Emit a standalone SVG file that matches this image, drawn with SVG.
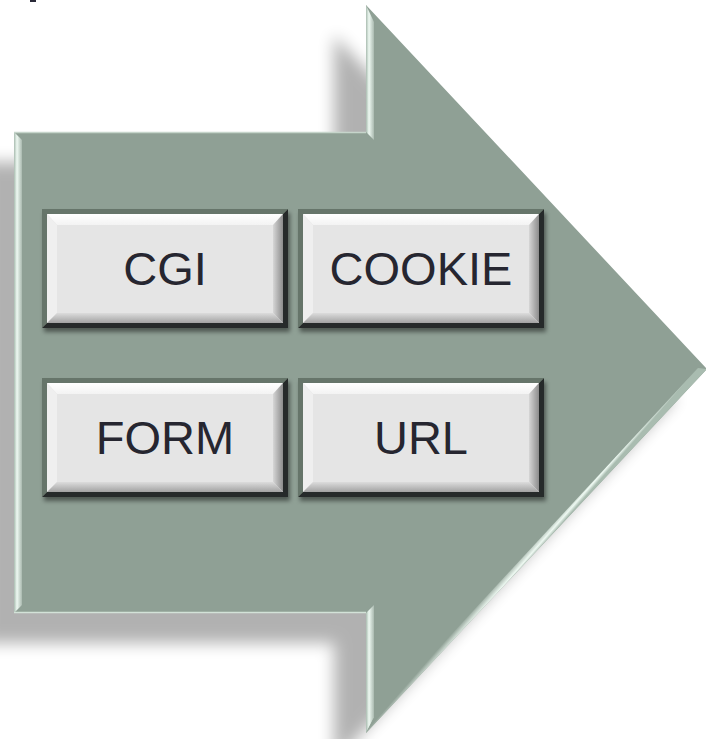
<svg xmlns="http://www.w3.org/2000/svg" xmlns:xlink="http://www.w3.org/1999/xlink" width="706" height="739" viewBox="0 0 706 739">
  <style>
    .label { font-family: "Liberation Sans", Arial, sans-serif; font-size: 47px; fill: #262630; text-anchor: middle; }
    .rim { fill: none; stroke-width: 1.5; }
  </style>
  <defs>
    <filter id="arrowShadow" x="-20%" y="-20%" width="140%" height="140%">
      <feGaussianBlur stdDeviation="8"/>
    </filter>
    <filter id="keyShadow" x="-10%" y="-10%" width="120%" height="130%">
      <feDropShadow dx="2" dy="4" stdDeviation="2" flood-color="#000" flood-opacity="0.45"/>
    </filter>

    <!-- bevel strips on the arrow -->
    <linearGradient id="bevelLeft" gradientUnits="userSpaceOnUse" x1="14" y1="0" x2="24" y2="0">
      <stop offset="0" stop-color="#a9bcb0"/>
      <stop offset="0.3" stop-color="#eef9f2"/>
      <stop offset="1" stop-color="#8fa095"/>
    </linearGradient>
    <linearGradient id="bevelNeck" gradientUnits="userSpaceOnUse" x1="366" y1="0" x2="376" y2="0">
      <stop offset="0" stop-color="#a9bcb0"/>
      <stop offset="0.3" stop-color="#eef9f2"/>
      <stop offset="1" stop-color="#8fa095"/>
    </linearGradient>
    <linearGradient id="bevelDiag" gradientUnits="userSpaceOnUse" x1="537" y1="552" x2="529" y2="545">
      <stop offset="0" stop-color="#a9bcb0"/>
      <stop offset="0.3" stop-color="#eef9f2"/>
      <stop offset="1" stop-color="#8fa095"/>
    </linearGradient>

    <!-- key button pieces -->
    <linearGradient id="keyTop" x1="0" y1="0" x2="0" y2="1">
      <stop offset="0" stop-color="#ffffff"/>
      <stop offset="1" stop-color="#f3f3f3"/>
    </linearGradient>
    <linearGradient id="keyRight" x1="0" y1="0" x2="1" y2="0">
      <stop offset="0" stop-color="#d6d6d6"/>
      <stop offset="1" stop-color="#8c8c8c"/>
    </linearGradient>
    <linearGradient id="keyBottom" x1="0" y1="0" x2="0" y2="1">
      <stop offset="0" stop-color="#dcdcdc"/>
      <stop offset="1" stop-color="#a2a2a2"/>
    </linearGradient>
    <symbol id="key" viewBox="0 0 246 119" width="246" height="119">
      <rect x="0" y="0" width="246" height="119" fill="#58645c"/>
      <polygon points="246,0 246,119 0,119 5,114 241,114 241,5" fill="#262c29"/>
      <polygon points="0,0 246,0 241,5 5,5 5,114 0,119" fill="#66746b"/>
      <rect x="5" y="5" width="236" height="109" fill="#e5e5e5"/>
      <polygon points="5,5 241,5 231,16 15,16" fill="url(#keyTop)"/>
      <polygon points="5,5 15,16 15,104 5,114" fill="#efefef"/>
      <polygon points="241,5 241,114 231,104 231,16" fill="url(#keyRight)"/>
      <polygon points="5,114 241,114 231,104 15,104" fill="url(#keyBottom)"/>
    </symbol>
  </defs>

  <rect width="706" height="739" fill="#ffffff"/>
  <rect x="30" y="0" width="6" height="2" fill="#2a2a38"/>

  <!-- big arrow -->
  <g id="arrow">
    <path d="M14,132 L366,132 L366,5 L707,369 L366,733 L366,613 L14,613 Z" fill="#000" opacity="0.3" transform="translate(-32,30)" filter="url(#arrowShadow)"/>
    <path d="M14,132 L366,132 L366,5 L707,369 L366,733 L366,613 L14,613 Z" fill="#8fa095"/>
    <polygon points="14,132 22,140 22,605 14,613" fill="url(#bevelLeft)"/>
    <polygon points="366,5 374,22 374,140 366,132" fill="url(#bevelNeck)"/>
    <polygon points="366,613 374,605 374,718 366,733" fill="url(#bevelNeck)"/>
    <polygon points="366,733 707,369 698,368 373,719" fill="url(#bevelDiag)"/>
    <line class="rim" x1="14" y1="132.5" x2="366" y2="132.5" stroke="#c6d5cb"/>
    <line class="rim" x1="14" y1="612.5" x2="366" y2="612.5" stroke="#d3e2d8"/>
  </g>

  <g id="node-cgi">
    <use xlink:href="#key" x="42" y="209" filter="url(#keyShadow)"/>
    <text class="label" x="165" y="285">CGI</text>
  </g>
  <g id="node-cookie">
    <use xlink:href="#key" x="298" y="209" filter="url(#keyShadow)"/>
    <text class="label" x="421" y="285">COOKIE</text>
  </g>
  <g id="node-form">
    <use xlink:href="#key" x="42" y="378" filter="url(#keyShadow)"/>
    <text class="label" x="165" y="454">FORM</text>
  </g>
  <g id="node-url">
    <use xlink:href="#key" x="298" y="378" filter="url(#keyShadow)"/>
    <text class="label" x="421" y="454">URL</text>
  </g>

  <g id="connectors"/>
</svg>
